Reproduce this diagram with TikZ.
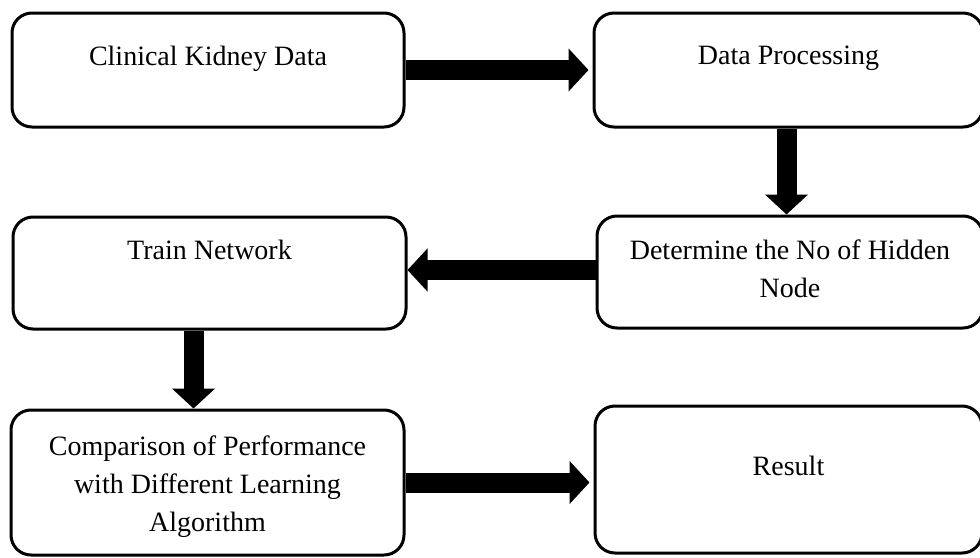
\documentclass[tikz,border=0pt]{standalone}
\usepackage{fontspec}
\setmainfont{Liberation Serif}
\usetikzlibrary{positioning,arrows.meta}

\begin{document}
\begin{tikzpicture}[x=0.5pt,y=-0.5pt,
    box/.style={draw,rounded corners=10pt,line width=1.5pt,inner sep=0pt},
    txt/.style={inner sep=0pt,anchor=north,align=center,font=\fontsize{14pt}{19pt}\selectfont},
    fat/.style={line width=10pt,-{Triangle[width=21pt,length=10pt]}}]
    \useasboundingbox (0,0) rectangle (980,557);
    % the boxes, the right ones run off the page
    \node[box,minimum width=196pt,minimum height=57pt] (kidney) at (208,70) {};
    \node[box,minimum width=194.5pt,minimum height=57pt] (proc) at (788.5,70) {};
    \node[box,minimum width=193pt,minimum height=56pt] (hidden) at (790,272) {};
    \node[box,minimum width=196.5pt,minimum height=56pt] (train) at (209.5,273) {};
    \node[box,minimum width=196.5pt,minimum height=72.5pt] (compare) at (207.5,482.5) {};
    \node[box,minimum width=193.5pt,minimum height=73.5pt] (result) at (788.5,479.5) {};
    % texts sit near the top of each box
    \node[txt,below=17pt of kidney.north] (kidneytxt) {Clinical Kidney Data};
    \node[txt,below=17pt of proc.north] (proctxt) {Data Processing};
    \node[txt,below=12.5pt of hidden.north] (hiddentxt) {Determine the No of Hidden\\Node};
    \node[txt,below=12pt of train.north] (traintxt) {Train Network};
    \node[txt,below=13.5pt of compare.north] (comparetxt) {Comparison of Performance\\with Different Learning\\Algorithm};
    \node[txt,below=25.5pt of result.north] (resulttxt) {Result};
    % fat arrows
    \draw[fat,shorten >=2pt] (kidney.east) -- (proc.west);
    \draw[fat] ([xshift=-1pt]proc.south) -- ([xshift=-1pt]proc.south |- hidden.north);
    \draw[fat] ([yshift=1pt]hidden.west) -- ([yshift=1pt]hidden.west -| train.east);
    \draw[fat] ([xshift=-8pt]train.south) -- ([xshift=-8pt]train.south |- compare.north);
    \draw[fat,shorten >=2pt] (compare.east) -- (compare.east -| result.west);
\end{tikzpicture}
\end{document}
